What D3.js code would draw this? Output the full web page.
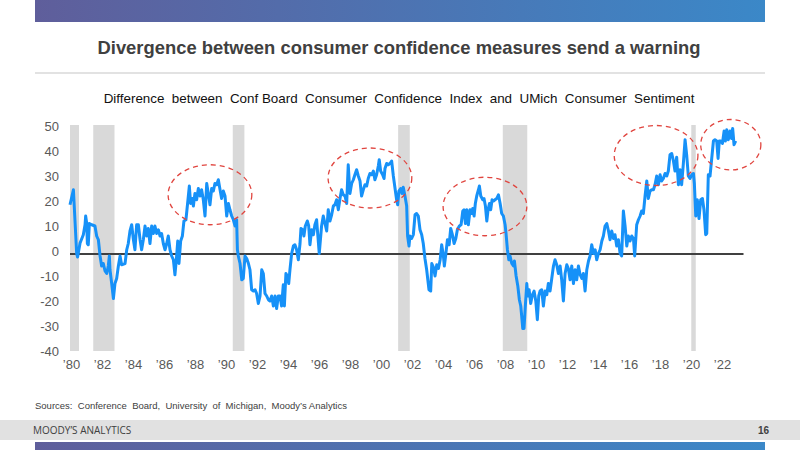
<!DOCTYPE html>
<html>
<head>
<meta charset="utf-8">
<script src="https://cdn.jsdelivr.net/npm/d3@7"></script>
<style>
    body { margin: 0; background: #fff; }
    svg { display: block; font-family: "Liberation Sans", Arial, sans-serif; }
</style>
</head>
<body>
<svg id="chart" width="800" height="450"></svg>
<script>
// monthly-ish readings, decimal year -> CB index minus UMich sentiment
var dates = [
    1980.00, 1980.22, 1980.43, 1980.49, 1980.65, 1980.86, 1980.97, 1981.01, 1981.08, 1981.12,
    1981.18, 1981.25, 1981.40, 1981.61, 1981.72, 1981.83, 1981.94, 1982.04, 1982.15, 1982.26,
    1982.37, 1982.47, 1982.54, 1982.58, 1982.69, 1982.80, 1982.90, 1983.01, 1983.12, 1983.23,
    1983.33, 1983.55, 1983.66, 1983.76, 1983.87, 1983.98, 1984.09, 1984.19, 1984.30, 1984.41,
    1984.52, 1984.62, 1984.73, 1984.84, 1984.95, 1985.05, 1985.16, 1985.27, 1985.38, 1985.48,
    1985.59, 1985.70, 1985.81, 1985.91, 1986.02, 1986.13, 1986.24, 1986.34, 1986.45, 1986.56,
    1986.67, 1986.77, 1986.88, 1986.95, 1987.03, 1987.14, 1987.25, 1987.35, 1987.48, 1987.57,
    1987.70, 1987.78, 1987.89, 1987.96, 1988.06, 1988.17, 1988.28, 1988.39, 1988.49, 1988.60,
    1988.71, 1988.82, 1988.92, 1989.03, 1989.14, 1989.25, 1989.35, 1989.46, 1989.57, 1989.68,
    1989.78, 1989.89, 1990.00, 1990.11, 1990.22, 1990.32, 1990.43, 1990.54, 1990.65, 1990.75,
    1990.80, 1990.86, 1990.97, 1991.08, 1991.18, 1991.29, 1991.40, 1991.51, 1991.61, 1991.72,
    1991.83, 1991.94, 1992.04, 1992.15, 1992.26, 1992.37, 1992.47, 1992.58, 1992.69, 1992.80,
    1992.90, 1993.01, 1993.12, 1993.23, 1993.33, 1993.44, 1993.55, 1993.65, 1993.76, 1993.83,
    1993.93, 1994.02, 1994.11, 1994.19, 1994.30, 1994.41, 1994.51, 1994.62, 1994.73, 1994.84,
    1994.90, 1995.01, 1995.09, 1995.18, 1995.31, 1995.40, 1995.48, 1995.59, 1995.70, 1995.80,
    1995.91, 1996.08, 1996.23, 1996.34, 1996.45, 1996.56, 1996.66, 1996.77, 1996.88, 1996.99,
    1997.09, 1997.20, 1997.31, 1997.42, 1997.52, 1997.63, 1997.74, 1997.85, 1997.95, 1998.06,
    1998.17, 1998.28, 1998.38, 1998.49, 1998.60, 1998.71, 1998.81, 1998.92, 1999.03, 1999.14,
    1999.24, 1999.35, 1999.46, 1999.57, 1999.67, 1999.78, 1999.89, 1999.95, 2000.04, 2000.17,
    2000.26, 2000.32, 2000.43, 2000.53, 2000.64, 2000.75, 2000.86, 2000.97, 2001.07, 2001.14,
    2001.22, 2001.33, 2001.42, 2001.50, 2001.61, 2001.72, 2001.78, 2001.87, 2001.93, 2002.04,
    2002.15, 2002.26, 2002.36, 2002.47, 2002.58, 2002.69, 2002.79, 2002.90, 2003.01, 2003.16,
    2003.27, 2003.34, 2003.45, 2003.55, 2003.66, 2003.77, 2003.88, 2003.98, 2004.09, 2004.15,
    2004.24, 2004.35, 2004.46, 2004.56, 2004.67, 2004.78, 2004.89, 2004.99, 2005.12, 2005.23,
    2005.34, 2005.42, 2005.51, 2005.60, 2005.70, 2005.81, 2005.92, 2005.98, 2006.07, 2006.15,
    2006.24, 2006.35, 2006.41, 2006.50, 2006.63, 2006.71, 2006.80, 2006.89, 2006.97, 2007.06,
    2007.14, 2007.23, 2007.32, 2007.42, 2007.53, 2007.64, 2007.75, 2007.85, 2007.96, 2008.07,
    2008.13, 2008.22, 2008.31, 2008.39, 2008.50, 2008.61, 2008.67, 2008.78, 2008.89, 2008.99,
    2009.08, 2009.14, 2009.21, 2009.29, 2009.36, 2009.47, 2009.53, 2009.62, 2009.72, 2009.83,
    2009.94, 2010.05, 2010.15, 2010.24, 2010.33, 2010.43, 2010.54, 2010.65, 2010.76, 2010.86,
    2010.97, 2011.08, 2011.19, 2011.29, 2011.40, 2011.51, 2011.62, 2011.72, 2011.83, 2011.94,
    2012.05, 2012.15, 2012.26, 2012.37, 2012.48, 2012.59, 2012.69, 2012.80, 2012.91, 2013.02,
    2013.12, 2013.23, 2013.34, 2013.45, 2013.55, 2013.66, 2013.77, 2013.88, 2013.98, 2014.09,
    2014.20, 2014.31, 2014.41, 2014.52, 2014.63, 2014.74, 2014.84, 2014.95, 2015.06, 2015.16,
    2015.27, 2015.38, 2015.49, 2015.59, 2015.70, 2015.81, 2015.92, 2016.02, 2016.13, 2016.24,
    2016.35, 2016.43, 2016.56, 2016.67, 2016.78, 2016.88, 2016.99, 2017.10, 2017.21, 2017.31,
    2017.42, 2017.53, 2017.64, 2017.74, 2017.85, 2017.96, 2018.07, 2018.17, 2018.28, 2018.39,
    2018.50, 2018.60, 2018.71, 2018.82, 2018.93, 2019.03, 2019.14, 2019.25, 2019.36, 2019.46,
    2019.57, 2019.68, 2019.79, 2019.89, 2020.00, 2020.11, 2020.22, 2020.28, 2020.37, 2020.47,
    2020.58, 2020.69, 2020.80, 2020.90, 2021.01, 2021.08, 2021.18, 2021.29, 2021.40, 2021.51,
    2021.61, 2021.72, 2021.81, 2021.89, 2021.98, 2022.09, 2022.20, 2022.28, 2022.37, 2022.47,
    2022.58, 2022.68, 2022.75, 2022.84, 2022.95
];
var values = [
    18.5, 24.5, -1, -2.4, 3.2, 6.5, 10.5, 14, 11, 3,
    2.5, 11, 10.5, 10, 6, 4.5, -2, -6, -5, -8,
    -9, -6, -2, -7.5, -13, -19, -13, -11, -6, -2,
    -5.5, -5, 0.5, 3, 8, 10.5, 4.5, 0.5, 10.5, 10.5,
    4.5, 0.5, 4.5, 10, 6, 9, 3, 10, 7, 10,
    7, 8.5, 6, 7, 3, 0.5, 3, 6, 0.5, -2,
    -3.5, -9.5, -2, 4, -5, 4, 6, 12, 12.5, 18,
    26, 19, 21, 18, 23, 20.5, 25, 22, 24.5, 20.5,
    14, 27, 23, 18.5, 25, 24, 27, 26.5, 28.5, 24.5,
    21, 24, 22, 14, 19, 16.5, 14, 12.5, 10, 12.5,
    0.5, -2, -5, -11.5, -11, -2, -3, -5, -7.5, -15.5,
    -16, -15.5, -17, -21, -18, -7.5, -9, -17, -18, -19.5,
    -20, -18, -22, -18, -23, -18, -18, -22, -13.5, -22,
    -9, -10, -13, -7.5, -1, 2, 2.5, 0.5, -3.5, 3,
    9, 8.5, 6, 10, 12, 10, 2.5, 8.5, 6.5, 10.5,
    12.5, -1, 10, 14, 11, 8, 16.5, 12, 14.5, 18,
    18.5, 20.5, 16.5, 21, 24.5, 22.5, 22, 19, 34.5, 23,
    27, 28.5, 30.5, 32.5, 30, 28, 22, 24.5, 26.5, 26,
    29, 31, 30.5, 32, 28.5, 30.5, 34, 36.5, 32, 30.5,
    29, 33, 35, 34.5, 35, 36, 30, 25, 20.5, 18.5,
    24, 25, 23, 25.5, 22, 18, 6, 2, 6, 5,
    6.5, 14.5, 15, 14, 8.5, 6.5, 3, -3, -7.5, -15.5,
    -16, -5, -6.5, -10, -5.5, -7, -3.5, 2.5, -2, -6,
    -1.5, 4.5, 2.5, 9, 6.5, 3, 5, 8.5, 10, 10.5,
    16, 16.5, 11, 16.5, 10.5, 16.5, 15, 17, 14, 19,
    22, 24.5, 26, 22, 20.5, 21, 18, 12, 16.5, 19,
    16.5, 20.5, 20, 20.5, 21, 22.5, 19, 15, 14, 10.5,
    7, 0.5, -3.5, -2, -5, -6, -4, -10, -14, -19.5,
    -22, -26, -31, -31, -23.5, -13, -18, -15.5, -21, -17.5,
    -16, -20, -27.5, -18, -16, -15.5, -22, -16, -17.5, -13,
    -16, -11, -6, -3.5, -5.5, -9, -6, -11.5, -20, -9,
    -5.5, -7, -11.5, -6, -13, -7.5, -11.5, -6, -9.5, -11,
    -9, -16, -7.5, -4, -2, 2.5, -1, 0.5, -3.5, -1,
    0.5, 4, 6, 10, 11, 8, 4.5, 8, 5, 6.5,
    2, 4.5, -1, -2, 16, 10, 2, 6, 4, 6,
    5, -2, 10.5, 12.5, 14, 16, 15, 22, 28, 21,
    24, 24.5, 24.5, 26.5, 30, 26.5, 30.5, 28, 29, 31,
    30, 32, 38.5, 39, 36, 32, 37.5, 26.5, 32.5, 26.5,
    35, 44.5, 38, 30, 29, 30.5, 31, 27, 14, 20.5,
    13, 20.5, 21, 16.5, 6.5, 7, 30.5, 30, 37, 44,
    44.5, 44, 37, 44, 44, 43, 48, 44, 48.5, 44.5,
    48, 45, 49, 42.5, 44
];

var recessionStarts = [1980.00, 1981.50, 1990.50, 2001.17, 2007.92, 2020.08];
var recessionEnds = [1980.58, 1982.87, 1991.25, 2001.92, 2009.50, 2020.37];

var yTicks = [-40, -30, -20, -10, 0, 10, 20, 30, 40, 50];
var xTickYears = [1980, 1982, 1984, 1986, 1988, 1990, 1992, 1994, 1996, 1998, 2000,
    2002, 2004, 2006, 2008, 2010, 2012, 2014, 2016, 2018, 2020, 2022];
var baselineValue = -1.2;

// dashed rings: centre (year, value) and radii (years, points)
var ringYears = [1989.03, 1999.35, 2006.77, 2017.81, 2022.63];
var ringValues = [22.5, 29.2, 17.8, 38.2, 42.5];
var ringYearRadius = [2.7, 2.7, 2.7, 2.7, 1.94];
var ringValueRadius = [12, 12, 11.7, 12, 10.1];

var title = 'Divergence between consumer confidence measures send a warning';
var subtitle = 'Difference  between  Conf Board  Consumer  Confidence  Index  and  UMich  Consumer  Sentiment';
var sourceNote = 'Sources:  Conference  Board,  University  of  Michigan,  Moody\u2019s Analytics';

var svg = d3.select('#chart');

var x = d3.scaleLinear().domain([1980, 2023.45]).range([70, 743.5]);
var y = d3.scaleLinear().domain([-40, 50]).range([351, 126]);

// header / footer decoration
var defs = svg.append('defs');
var grad = defs.append('linearGradient').attr('id', 'band').attr('x1', '0%').attr('x2', '100%');
grad.append('stop').attr('offset', '0%').attr('stop-color', '#5f5e9b');
grad.append('stop').attr('offset', '100%').attr('stop-color', '#3b88c8');

svg.append('rect').attr('x', 35).attr('y', 0).attr('width', 730).attr('height', 22).attr('fill', 'url(#band)');
svg.append('rect').attr('x', 35).attr('y', 442).attr('width', 730).attr('height', 8).attr('fill', 'url(#band)');
svg.append('rect').attr('x', 0).attr('y', 420).attr('width', 800).attr('height', 20).attr('fill', '#e1e1e1');
svg.append('line').attr('x1', 35).attr('x2', 765).attr('y1', 73).attr('y2', 73)
    .attr('stroke', '#d9d9d9').attr('stroke-width', 1.5);

svg.append('text').attr('x', 399).attr('y', 53.5).attr('text-anchor', 'middle')
    .attr('font-size', 18.4).attr('font-weight', 'bold').attr('fill', '#404040')
    .text(title);

svg.append('text').attr('x', 399).attr('y', 103).attr('text-anchor', 'middle')
    .attr('font-size', 13.4).attr('fill', '#111')
    .style('white-space', 'pre')
    .text(subtitle);

svg.append('text').attr('x', 35).attr('y', 409).attr('font-size', 9.5).attr('fill', '#404040')
    .style('white-space', 'pre')
    .text(sourceNote);

svg.append('text').attr('x', 33).attr('y', 434).attr('font-size', 10).attr('fill', '#404040')
    .attr('font-family', '"Open Sans", sans-serif')
    .text('MOODY\u2019S ANALYTICS');

svg.append('text').attr('x', 769).attr('y', 434).attr('text-anchor', 'end')
    .attr('font-size', 10).attr('font-weight', 'bold').attr('fill', '#404040')
    .text('16');

// recession shading
var recessions = recessionStarts.map(function (s, i) { return { start: s, end: recessionEnds[i] }; });
svg.append('g').selectAll('rect').data(recessions).enter().append('rect')
    .attr('x', function (d) { return x(d.start); })
    .attr('width', function (d) { return x(d.end) - x(d.start); })
    .attr('y', y(50) - 1)
    .attr('height', y(-40) - y(50) + 1)
    .attr('fill', '#d9d9d9');

// y axis labels only
var yAxis = d3.axisLeft(y).tickValues(yTicks).tickSize(0).tickPadding(0)
    .tickFormat(function (d) { return String(d); });
var yg = svg.append('g').attr('transform', 'translate(59,0)').call(yAxis);
yg.select('.domain').remove();
yg.selectAll('text').attr('font-size', 13).attr('fill', '#595959')
    .attr('font-family', '"Liberation Sans", Arial, sans-serif');

var xAxis = d3.axisBottom(x).tickValues(xTickYears).tickSize(0).tickPadding(0)
    .tickFormat(function (d) { return '\u2019' + String(d).slice(2); });
var xg = svg.append('g').attr('transform', 'translate(1,360)').call(xAxis);
xg.select('.domain').remove();
xg.selectAll('text').attr('font-size', 13).attr('fill', '#595959')
    .attr('font-family', '"Liberation Sans", Arial, sans-serif');

// baseline
svg.append('line')
    .attr('x1', x(1980)).attr('x2', x(2023.45))
    .attr('y1', y(baselineValue)).attr('y2', y(baselineValue))
    .attr('stroke', '#404040').attr('stroke-width', 2);

// series
var points = dates.map(function (d, i) { return { date: d, value: values[i] }; });
var line = d3.line()
    .x(function (d) { return x(d.date); })
    .y(function (d) { return y(d.value); });

svg.append('path').datum(points)
    .attr('d', line)
    .attr('fill', 'none')
    .attr('stroke', '#1691f8')
    .attr('stroke-width', 3)
    .attr('stroke-linejoin', 'round');

// highlight rings
var rings = ringYears.map(function (yr, i) {
    return { year: yr, value: ringValues[i], ry: ringYearRadius[i], rv: ringValueRadius[i] };
});
svg.append('g').selectAll('ellipse').data(rings).enter().append('ellipse')
    .attr('cx', function (d) { return x(d.year); })
    .attr('cy', function (d) { return y(d.value); })
    .attr('rx', function (d) { return x(d.year + d.ry) - x(d.year); })
    .attr('ry', function (d) { return y(d.value) - y(d.value + d.rv); })
    .attr('fill', 'none')
    .attr('stroke', '#e0453f')
    .attr('stroke-width', 1.3)
    .attr('stroke-dasharray', '5,4');
</script>
</body>
</html>
